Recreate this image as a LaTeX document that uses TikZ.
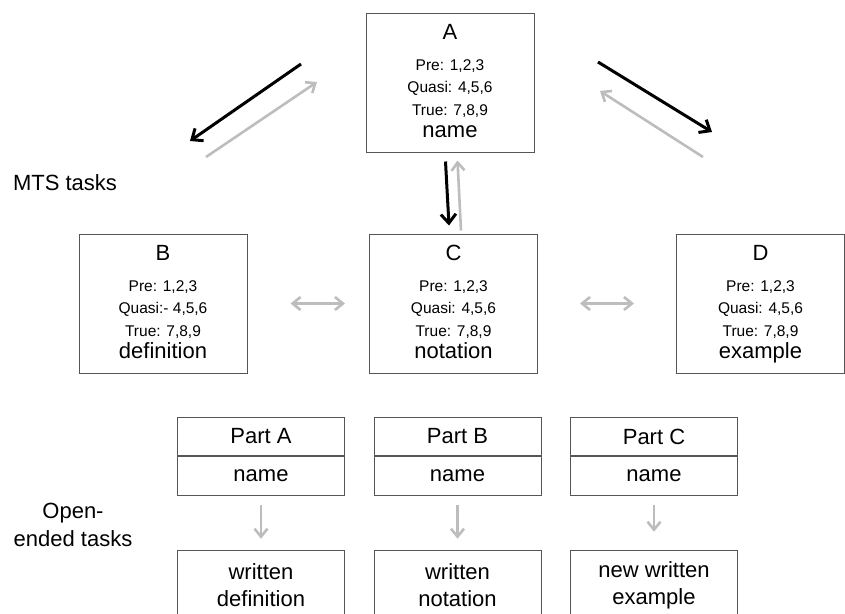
\documentclass[tikz,border=0pt]{standalone}
\usepackage{fontspec}
\setmainfont{Liberation Sans}
\usetikzlibrary{positioning, arrows.meta}

\definecolor{boxgray}{HTML}{555555}
\definecolor{lightgray}{HTML}{BDBDBD}

\tikzset{
  mtsbox/.style = {draw = boxgray, line width = 1pt, minimum width = 168pt,
                   minimum height = 139pt, inner sep = 0pt},
  partbox/.style = {draw = boxgray, line width = 1pt, minimum width = 167pt,
                    minimum height = 38.5pt, inner sep = 0pt, font = \bigfont},
  taskbox/.style = {partbox, minimum height = 70pt, align = center,
                    font = \fontsize{22}{27}\selectfont},
  big/.style = {font = \bigfont, inner sep = 0pt, anchor = base},
  small/.style = {font = \fontsize{15.5}{18}\selectfont, inner sep = 0pt, anchor = base},
  darkarrow/.style = {black, line width = 3pt, -{Straight Barb[length = 9pt, width = 15pt]}},
  lightarrow/.style = {lightgray, line width = 2.6pt, -{Straight Barb[length = 8pt, width = 13pt]}},
  twoway/.style = {lightarrow, {Straight Barb[length = 8pt, width = 13pt]}-{Straight Barb[length = 8pt, width = 13pt]}}
}
\newcommand{\bigfont}{\fontsize{22}{26}\selectfont}

\begin{document}
\begin{tikzpicture}[x = 1pt, y = -1pt]
  \clip (0, 0) rectangle (845, 613);

  % MTS boxes
  \foreach \nm/\px/\py/\qs/\wrd in {A/450/82.5/{Quasi: 4,5,6}/name,
      B/163/303.5/{Quasi:- 4,5,6}/definition,
      C/453.5/303.5/{Quasi: 4,5,6}/notation,
      D/760.5/303.5/{Quasi: 4,5,6}/example}{
    \node [mtsbox] (\nm) at (\px, \py) {};
    \node [big] (\nm-ttl) at ([yshift = -27pt] \nm.north) {\nm};
    \node [small] (\nm-pre) at ([yshift = -58pt] \nm.north) {Pre: 1,2,3};
    \node [small] (\nm-qs) at ([yshift = -80pt] \nm.north) {\qs};
    \node [small] (\nm-tr) at ([yshift = -102.5pt] \nm.north) {True: 7,8,9};
    \node [big] (\nm-wd) at ([yshift = -125pt] \nm.north) {\wrd};
  }

  \node [font = \bigfont] (mts) at (65, 183) {MTS tasks};
  \node [font = \fontsize{22}{28}\selectfont, align = center] (open) at (73, 525)
    {Open-\\ended tasks};

  % arrows round A
  \coordinate (ab1) at (301, 64);
  \coordinate (ab2) at (190, 141);
  \coordinate (ba1) at (206, 157);
  \coordinate (ba2) at (317, 82);
  \coordinate (ad1) at (598, 62);
  \coordinate (ad2) at (712, 132);
  \coordinate (da1) at (703, 157);
  \coordinate (da2) at (600, 91);
  \draw [darkarrow] (ab1) -- (ab2);
  \draw [lightarrow] (ba1) -- (ba2);
  \draw [darkarrow] (ad1) -- (ad2);
  \draw [lightarrow] (da1) -- (da2);
  \draw [darkarrow] ([xshift = -4.5pt, yshift = -9pt] A.south) -- ([xshift = -4.5pt, yshift = 8pt] C.north);
  \draw [lightarrow] ([xshift = 7.5pt, yshift = 3pt] C.north) -- ([xshift = 7.5pt, yshift = -8pt] A.south);

  % two-way arrows
  \draw [twoway] ([xshift = 43pt] B.east) -- ([xshift = -24pt] C.west);
  \draw [twoway] ([xshift = 42pt] C.east) -- ([xshift = -42pt] D.west);

  % open-ended tasks
  \node [partbox] (pa) at (261, 436.5) {Part A};
  \node [partbox, below = 0pt of pa] (pa-n) {name};
  \node [partbox] (pb) at (457.5, 436.5) {Part B};
  \node [partbox, below = 0pt of pb] (pb-n) {name};
  \node [partbox] (pc) at (654, 436.5) {Part C};
  \node [partbox, below = 0pt of pc] (pc-n) {name};

  \node [taskbox, below = 54pt of pa-n] (wa) {written\\definition};
  \node [taskbox, below = 54pt of pb-n] (wb) {written\\notation};
  \node [taskbox, below = 54pt of pc-n] (wc) {new written\\example};

  \draw [lightarrow] ([yshift = -9pt] pa-n.south) -- ([yshift = 11pt] wa.north);
  \draw [lightarrow] ([yshift = -9pt] pb-n.south) -- ([yshift = 11pt] wb.north);
  \draw [lightarrow] ([yshift = -9pt] pc-n.south) -- ([yshift = 18pt] wc.north);
\end{tikzpicture}
\end{document}
